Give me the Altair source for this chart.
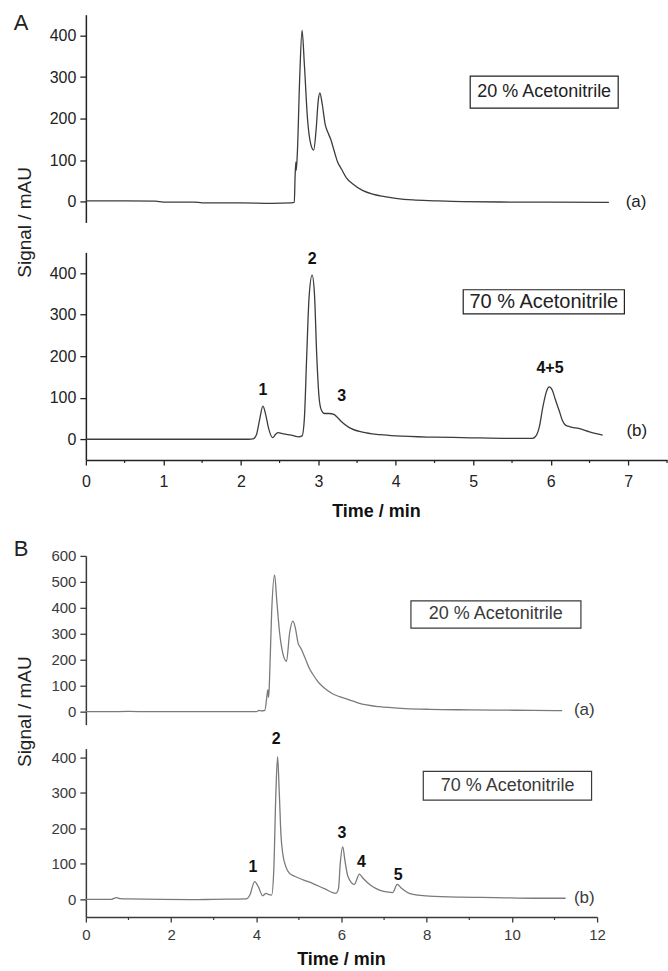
import altair as alt
import pandas as pd

FONT = "Liberation Sans"

# ---------------- data ----------------
# Panel A, chromatogram (a): 20 % acetonitrile
A_a_time = [0, 0.5, 0.9, 1.0, 1.4, 1.5, 2.0, 2.4, 2.65, 2.69,
            2.70, 2.71, 2.715, 2.73, 2.76, 2.79, 2.82, 2.86, 2.90, 2.94,
            2.97, 3.00, 3.02, 3.05, 3.09, 3.12, 3.16, 3.20, 3.25, 3.30,
            3.36, 3.45, 3.57, 3.70, 3.80, 4.00, 4.22, 4.50, 4.86, 5.50,
            6.00, 6.75]
A_a_signal = [2, 2, 1, -1, -1, -3, -3, -4, -3, -2,
              60, 95, 75, 120, 300, 412, 330, 200, 140, 124,
              170, 245, 262, 235, 185, 168, 150, 125, 95, 78,
              58, 42, 27, 18, 14, 8, 4, 2, 0, -1,
              -1, -2]

# Panel A, chromatogram (b): 70 % acetonitrile
A_b_time = [0, 1.0, 2.1, 2.16, 2.20, 2.24, 2.285, 2.32, 2.36, 2.41,
            2.45, 2.48, 2.55, 2.65, 2.75, 2.79, 2.82, 2.85, 2.88, 2.92,
            2.95, 2.98, 3.01, 3.04, 3.08, 3.14, 3.20, 3.25, 3.30, 3.40,
            3.57, 3.80, 4.00, 4.50, 4.86, 5.50, 5.76, 5.80, 5.85, 5.90,
            5.95, 5.98, 6.02, 6.06, 6.11, 6.15, 6.19, 6.25, 6.36, 6.50,
            6.67]
A_b_signal = [0, 0, 0, 1, 10, 45, 80, 60, 25, 4,
              12, 16, 13, 10, 6, 8, 50, 200, 340, 395,
              350, 200, 100, 70, 62, 62, 60, 52, 42, 28,
              17, 11, 8, 5, 4, 2, 2, 6, 28, 80,
              118, 126, 118, 95, 68, 45, 34, 30, 26, 18,
              10]

# Panel B, chromatogram (a): 20 % acetonitrile
B_a_time = [0, 0.5, 1.0, 1.5, 2.5, 4.0, 4.07, 4.12, 4.20, 4.25,
            4.27, 4.29, 4.31, 4.36, 4.43, 4.48, 4.55, 4.63, 4.71, 4.78,
            4.86, 4.92, 4.98, 5.05, 5.15, 5.25, 5.32, 5.45, 5.55, 5.64,
            5.80, 5.95, 6.10, 6.40, 6.89, 7.50, 8.06, 9.00, 9.62, 10.50,
            11.18]
B_a_signal = [0, 0, 1, 0, 0, 0, 5, 3, 5, 60,
              84, 55, 120, 380, 527, 430, 300, 220, 194, 300,
              349, 320, 265, 243, 205, 165, 146, 115, 98, 85,
              68, 58, 50, 33, 19, 12, 9, 7, 6, 5,
              4]

# Panel B, chromatogram (b): 70 % acetonitrile
B_b_time = [0, 0.6, 0.72, 0.8, 1.0, 2.5, 3.0, 3.76, 3.85, 3.96,
            4.05, 4.15, 4.23, 4.30, 4.36, 4.41, 4.46, 4.50, 4.54, 4.58,
            4.62, 4.70, 4.78, 4.90, 5.10, 5.32, 5.60, 5.87, 5.93, 5.97,
            6.03, 6.08, 6.15, 6.30, 6.42, 6.50, 6.70, 6.89, 7.10, 7.20,
            7.31, 7.40, 7.59, 8.06, 8.80, 9.62, 10.50, 11.26]
B_b_signal = [0, 0, 5, 2, 1, -1, 0, 1, 12, 50,
              35, 10, 17, 13, 12, 80, 300, 402, 300, 180,
              130, 90, 73, 65, 55, 45, 30, 17, 30, 100,
              148, 110, 65, 42, 71, 60, 38, 26, 20, 19,
              42, 32, 17, 9, 6, 5, 3, 3]

# peak labels
A_peak_labels = ["1", "2", "3", "4+5"]
A_peak_time = [2.285, 2.92, 3.30, 5.99]
A_peak_signal = [119, 435, 103, 171]
B_peak_labels = ["1", "2", "3", "4", "5"]
B_peak_time = [3.92, 4.47, 6.01, 6.47, 7.33]
B_peak_signal = [92, 453, 186, 106, 68]

# axis ticks
A_x_ticks = [0, 1, 2, 3, 4, 5, 6, 7]
A_x_minor = [0.5, 1.5, 2.5, 3.5, 4.5, 5.5, 6.5, 7.5]
A_y_ticks = [0, 100, 200, 300, 400]
B_x_ticks = [0, 2, 4, 6, 8, 10, 12]
B_x_minor = [1, 3, 5, 7, 9, 11]
B_a_y_ticks = [0, 100, 200, 300, 400, 500, 600]
B_b_y_ticks = [0, 100, 200, 300, 400]

# condition boxes: label, centre time, centre signal, box extent
box_labels = ["20 % Acetonitrile", "70 % Acetonitrile", "20 % Acetonitrile", "70 % Acetonitrile"]
box_center_time = [5.915, 5.91, 9.62, 9.90]
box_center_signal = [264, 331, 375, 320]
box_time_lo = [4.96, 4.87, 7.63, 7.92]
box_time_hi = [6.87, 6.95, 11.62, 11.87]
box_signal_lo = [225, 302, 322, 280]
box_signal_hi = [302, 360, 427, 361]

# trace tags
tag_labels = ["(a)", "(b)", "(a)", "(b)"]
tag_time = [7.10, 7.11, 11.70, 11.70]
tag_signal = [0, 20, 8, 4]

assert len(A_a_time) == len(A_a_signal)
assert len(A_b_time) == len(A_b_signal)
assert len(B_a_time) == len(B_a_signal)
assert len(B_b_time) == len(B_b_signal)


def one_row():
    return pd.DataFrame({"t": [0]})


def panel(idx, time, signal, xdom, ydom, yticks, w, h, line_color, ink,
          xticks=None, minor=None, peaks=None, tick_fs=16, box_fs=18,
          xlabel_pad=9, extras=()):
    xs = alt.Scale(domain=xdom, nice=False, zero=False)
    ys = alt.Scale(domain=ydom, nice=False, zero=False)
    if xticks is None:
        xaxis = None
    else:
        xaxis = alt.Axis(values=xticks, title=None, grid=False, tickSize=5,
                         tickWidth=1.3, domainWidth=1.5, domainColor=ink,
                         tickColor=ink, labelColor=ink, labelFont=FONT,
                         labelFontSize=tick_fs, labelPadding=xlabel_pad,
                         labelFlush=False, format="d")
    yaxis = alt.Axis(values=yticks, title=None, grid=False, tickSize=6,
                     tickWidth=1.3, domainWidth=1.5, domainColor=ink,
                     tickColor=ink, labelColor=ink, labelFont=FONT,
                     labelFontSize=tick_fs, labelPadding=4, format="d")
    X = alt.X("t:Q", scale=xs, axis=xaxis)
    Y = alt.Y("v:Q", scale=ys, axis=yaxis)

    df = pd.DataFrame({"t": time, "v": signal})
    layers = [
        alt.Chart(df).mark_line(color=line_color, strokeWidth=1.3,
                                interpolate="monotone", clip=True).encode(x=X, y=Y)
    ]
    bdf = pd.DataFrame({"t": [box_time_lo[idx]], "t2": [box_time_hi[idx]],
                        "v": [box_signal_lo[idx]], "v2": [box_signal_hi[idx]]})
    layers.append(alt.Chart(bdf).mark_rect(fill="white", stroke=ink,
                                           strokeWidth=1.2).encode(
        x=X, x2="t2:Q", y=Y, y2="v2:Q"))
    tdf = pd.DataFrame({"t": [box_center_time[idx]], "v": [box_center_signal[idx]],
                        "s": [box_labels[idx]]})
    layers.append(alt.Chart(tdf).mark_text(font=FONT, fontSize=box_fs, color=ink,
                                           baseline="middle", align="center").encode(
        x=X, y=Y, text="s:N"))
    gdf = pd.DataFrame({"t": [tag_time[idx]], "v": [tag_signal[idx]],
                        "s": [tag_labels[idx]]})
    layers.append(alt.Chart(gdf).mark_text(font=FONT, fontSize=17, color=ink,
                                           baseline="middle", align="center").encode(
        x=X, y=Y, text="s:N"))
    if peaks is not None:
        pdf = pd.DataFrame({"t": peaks[1], "v": peaks[2], "s": peaks[0]})
        layers.append(alt.Chart(pdf).mark_text(font=FONT, fontSize=16, fontWeight="bold",
                                               color="#111", baseline="middle",
                                               align="center").encode(
            x=X, y=Y, text="s:N"))
    if minor is not None:
        mdf = pd.DataFrame({"t": minor})
        layers.append(alt.Chart(mdf).mark_rule(color=ink, strokeWidth=1.2).encode(
            x=X, y=alt.value(h), y2=alt.value(h + 3)))
    for e in extras:
        layers.append(e)
    return alt.layer(*layers).properties(width=w, height=h)


def label(text, x, y, size, ink, bold=False, angle=0):
    kw = dict(font=FONT, fontSize=size, color=ink, baseline="middle", align="center",
              text=text)
    if bold:
        kw["fontWeight"] = "bold"
    if angle:
        kw["angle"] = angle
    return alt.Chart(one_row()).mark_text(**kw).encode(x=alt.value(x), y=alt.value(y))


def spacer(h):
    return alt.Chart(one_row()).mark_text(text="").encode(
        x=alt.value(0), y=alt.value(0)).properties(width=100, height=h)


INK_A = "#222222"
INK_B = "#3a3a3a"
WA, HA = 582, 208
WB = 512

anchor = alt.Chart(one_row()).mark_rule(strokeOpacity=0, strokeWidth=0).encode(
    x=alt.value(-86), x2=alt.value(-86), y=alt.value(-13.5), y2=alt.value(-13.5))

Aa = panel(0, A_a_time, A_a_signal, [0, 7.5], [-50, 450], A_y_ticks, WA, HA,
           "#3c3c3c", INK_A, box_fs=18,
           extras=[anchor,
                   label("A", -65, 8.5, 22, INK_A),
                   label("Signal / mAU", -61, 208, 19, INK_A, angle=270)])
Ab = panel(1, A_b_time, A_b_signal, [0, 7.5], [-50, 450], A_y_ticks, WA, HA,
           "#3c3c3c", INK_A, xticks=A_x_ticks, minor=A_x_minor,
           peaks=(A_peak_labels, A_peak_time, A_peak_signal), box_fs=20,
           extras=[label("Time / min", WA / 2, 260, 18, "#111", bold=True)])
Ba = panel(2, B_a_time, B_a_signal, [0, 12], [-50, 600], B_a_y_ticks, WB, 169,
           "#7a7a7a", INK_B, tick_fs=15, box_fs=18,
           extras=[label("B", -65, -7, 22, INK_A),
                   label("Signal / mAU", -61, 156, 19, INK_A, angle=270)])
Bb = panel(3, B_b_time, B_b_signal, [0, 12], [-50, 425], B_b_y_ticks, WB, 168.7,
           "#7a7a7a", INK_B, xticks=B_x_ticks, minor=B_x_minor,
           peaks=(B_peak_labels, B_peak_time, B_peak_signal), tick_fs=15, box_fs=18,
           xlabel_pad=5,
           extras=[label("Time / min", WB / 2, 212, 18, "#111", bold=True)])

chart = alt.VConcatChart(
    vconcat=[Aa, spacer(29.5), Ab, spacer(96), Ba, spacer(24), Bb],
    spacing=0, bounds="flush", padding=0,
    background="white",
).configure_view(stroke=None)

chart.save("out.html", embed_options={"renderer": "svg", "actions": False})
